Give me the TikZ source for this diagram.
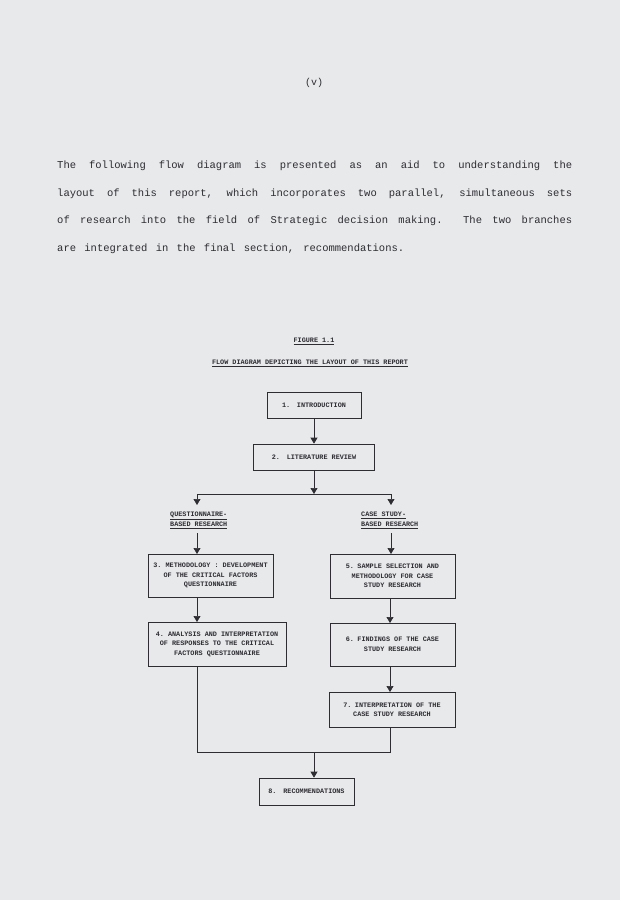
\documentclass[tikz,border=0pt]{standalone}
\usepackage{fontspec}
\setmonofont{Liberation Mono}
\usetikzlibrary{arrows.meta}
\definecolor{paper}{RGB}{232,233,235}
\definecolor{ink}{RGB}{45,45,50}
\newcommand{\jline}[2]{\makebox[#1][s]{\spaceskip=0.5em plus 1fil\relax #2}}
\begin{document}
\begin{tikzpicture}[x=1pt,y=-1pt,
  every node/.style={font=\ttfamily, text=ink},
  box/.style={draw=ink, line width=0.7pt, minimum height=26pt, inner sep=2pt, font=\ttfamily\fontsize{6.8}{9.5}\selectfont\bfseries, align=center},
  lbl/.style={font=\ttfamily\fontsize{6.8}{10}\selectfont\bfseries, align=left, anchor=north west, inner sep=0pt},
  arr/.style={draw=ink, line width=0.7pt, -{Triangle[width=7pt,length=6pt]}},
  ln/.style={draw=ink, line width=0.7pt},
  para/.style={anchor=west, inner sep=0pt, font=\ttfamily\fontsize{10.5}{12}\selectfont}]
\fill[paper] (0,0) rectangle (620,900);
\useasboundingbox (0,0) rectangle (620,900);
\node (pg) at (314,83) {\fontsize{10}{12}\selectfont(v)};
\node[para] (p1) at (57,166) {\jline{515pt}{The following flow diagram is presented as an aid to understanding the}};
\node[para] (p2) at (57,194) {\jline{515pt}{layout of this report, which incorporates two parallel, simultaneous sets}};
\node[para] (p3) at (57,221) {\jline{515pt}{of research into the field of Strategic decision making. The two branches}};
\node[para] (p4) at (57,249) {\jline{347pt}{are integrated in the final section, recommendations.}};
\node (fig) at (314,341) {\fontsize{6.8}{8}\selectfont\bfseries\underline{FIGURE 1.1}};
\node (ttl) at (310,363) {\fontsize{6.8}{8}\selectfont\bfseries\underline{FLOW DIAGRAM DEPICTING THE LAYOUT OF THIS REPORT}};
\node[box, minimum width=94pt] (b1) at (314,405) {1.\quad INTRODUCTION};
\node[box, minimum width=121pt] (b2) at (314,457) {2.\quad LITERATURE REVIEW};
\coordinate (split) at (314,494);
\coordinate (sl) at (197,494);
\coordinate (sr) at (391,494);
\node[lbl] (lq) at (170,512) {\underline{QUESTIONNAIRE-}\\\underline{BASED RESEARCH}};
\node[lbl] (lc) at (361,512) {\underline{CASE STUDY-}\\\underline{BASED RESEARCH}};
\node[box, minimum width=125pt, minimum height=43pt] (b3) at (210.5,575.5) {3. METHODOLOGY : DEVELOPMENT\\OF THE CRITICAL FACTORS\\QUESTIONNAIRE};
\node[box, minimum width=125pt, minimum height=44pt] (b5) at (392.5,576) {5.\enspace SAMPLE SELECTION AND\\METHODOLOGY FOR CASE\\STUDY RESEARCH};
\node[box, minimum width=138pt, minimum height=44pt] (b4) at (217,644) {4. ANALYSIS AND INTERPRETATION\\OF RESPONSES TO THE CRITICAL\\FACTORS QUESTIONNAIRE};
\node[box, minimum width=125pt, minimum height=43pt] (b6) at (392.5,644.5) {6.\enspace FINDINGS OF THE CASE\\STUDY RESEARCH};
\node[box, minimum width=126pt, minimum height=35pt] (b7) at (392,709.5) {7.\enspace INTERPRETATION OF THE\\CASE STUDY RESEARCH};
\node[box, minimum width=95pt, minimum height=27pt] (b8) at (306.5,791.5) {8.\quad RECOMMENDATIONS};
\coordinate (ml) at (197,752);
\coordinate (mr) at (390,752);
\coordinate (mm) at (314,752);
\draw[arr] (b1.south) -- (b2.north);
\draw[arr] (b2.south) -- (split);
\draw[ln] (sl) -- (sr);
\draw[arr] (sl) -- ++(0,11);
\draw[arr] (sr) -- ++(0,11);
\draw[arr] (197,533) -- (197,554);
\draw[arr] (391,533) -- (391,554);
\draw[arr] (b3.south -| 197,0) -- (197,622);
\draw[arr] (b5.south -| 390,0) -- (390,623);
\draw[arr] (b6.south -| 390,0) -- (390,692);
\draw[ln] (b4.south -| ml) -- (ml) -- (mr) -- (b7.south -| mr);
\draw[arr] (mm) -- (mm |- b8.north);
\end{tikzpicture}
\end{document}
